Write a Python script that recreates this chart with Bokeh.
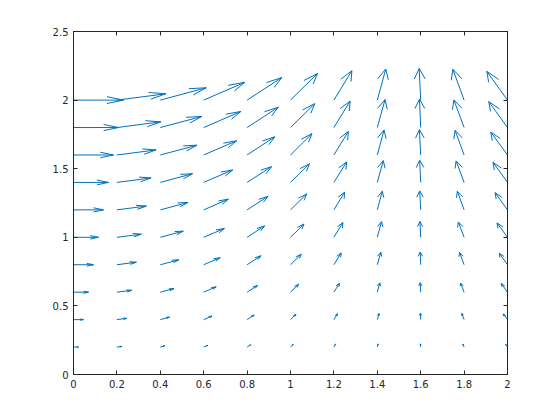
import numpy as np
from bokeh.plotting import figure
from bokeh.models import FixedTicker, LinearAxis, Range1d
from bokeh.embed import file_html
from bokeh.resources import INLINE

# grid of arrow origins
X_GRID = [0.0, 0.2, 0.4, 0.6, 0.8, 1.0, 1.2, 1.4, 1.6, 1.8, 2.0]
Y_GRID = [0.2, 0.4, 0.6, 0.8, 1.0, 1.2, 1.4, 1.6, 1.8, 2.0]

# vector components, one row per Y_GRID value
U = [
    [0.20, 0.20, 0.18, 0.17, 0.14, 0.11, 0.07, 0.03, -0.01, -0.05, -0.08],
    [0.40, 0.39, 0.37, 0.33, 0.28, 0.22, 0.14, 0.07, -0.01, -0.09, -0.17],
    [0.60, 0.59, 0.55, 0.50, 0.42, 0.32, 0.22, 0.10, -0.02, -0.14, -0.25],
    [0.80, 0.78, 0.74, 0.66, 0.56, 0.43, 0.29, 0.14, -0.02, -0.18, -0.33],
    [1.00, 0.98, 0.92, 0.83, 0.70, 0.54, 0.36, 0.17, -0.03, -0.23, -0.42],
    [1.20, 1.18, 1.11, 0.99, 0.84, 0.65, 0.43, 0.20, -0.04, -0.27, -0.50],
    [1.40, 1.37, 1.29, 1.16, 0.98, 0.76, 0.51, 0.24, -0.04, -0.32, -0.58],
    [1.60, 1.57, 1.47, 1.32, 1.11, 0.86, 0.58, 0.27, -0.05, -0.36, -0.67],
    [1.80, 1.76, 1.66, 1.49, 1.25, 0.97, 0.65, 0.31, -0.05, -0.41, -0.75],
    [2.00, 1.96, 1.84, 1.65, 1.39, 1.08, 0.72, 0.34, -0.06, -0.45, -0.83],
]
V = [
    [0.00, 0.04, 0.08, 0.11, 0.14, 0.17, 0.19, 0.20, 0.20, 0.19, 0.18],
    [0.00, 0.08, 0.16, 0.23, 0.29, 0.34, 0.37, 0.39, 0.40, 0.39, 0.36],
    [0.00, 0.12, 0.23, 0.34, 0.43, 0.50, 0.56, 0.59, 0.60, 0.58, 0.55],
    [0.00, 0.16, 0.31, 0.45, 0.57, 0.67, 0.75, 0.79, 0.80, 0.78, 0.73],
    [0.00, 0.20, 0.39, 0.56, 0.72, 0.84, 0.93, 0.99, 1.00, 0.97, 0.91],
    [0.00, 0.24, 0.47, 0.68, 0.86, 1.01, 1.12, 1.18, 1.20, 1.17, 1.09],
    [0.00, 0.28, 0.55, 0.79, 1.00, 1.18, 1.30, 1.38, 1.40, 1.36, 1.27],
    [0.00, 0.32, 0.62, 0.90, 1.15, 1.35, 1.49, 1.58, 1.60, 1.56, 1.45],
    [0.00, 0.36, 0.70, 1.02, 1.29, 1.51, 1.68, 1.77, 1.80, 1.75, 1.64],
    [0.00, 0.40, 0.78, 1.13, 1.43, 1.68, 1.86, 1.97, 2.00, 1.95, 1.82],
]

X_TICKS = [0.0, 0.2, 0.4, 0.6, 0.8, 1.0, 1.2, 1.4, 1.6, 1.8, 2.0]
X_TICK_LABELS = ["0", "0.2", "0.4", "0.6", "0.8", "1", "1.2", "1.4", "1.6", "1.8", "2"]
Y_TICKS = [0.0, 0.5, 1.0, 1.5, 2.0, 2.5]
Y_TICK_LABELS = ["0", "0.5", "1", "1.5", "2", "2.5"]

ARROW_COLOR = "#0072BD"
AXIS_COLOR = "#262626"

# --- quiver geometry (MATLAB-style autoscale and arrow heads) ---
Xg, Yg = np.meshgrid(np.array(X_GRID), np.array(Y_GRID))
u = np.array(U, dtype=float)
v = np.array(V, dtype=float)
m, n = Xg.shape
delx = (Xg.max() - Xg.min()) / n
dely = (Yg.max() - Yg.min()) / m
del2 = delx ** 2 + dely ** 2
lens = np.sqrt((u ** 2 + v ** 2) / del2)
scale = 0.9 / lens.max()
u = u * scale
v = v * scale

x0 = Xg.ravel()
y0 = Yg.ravel()
x1 = (Xg + u).ravel()
y1 = (Yg + v).ravel()
uu = u.ravel()
vv = v.ravel()
alpha, beta = 0.33, 0.33
eps = 1e-12
hx1 = x1 - alpha * (uu + beta * (vv + eps))
hy1 = y1 - alpha * (vv - beta * (uu + eps))
hx2 = x1 - alpha * (uu - beta * (vv + eps))
hy2 = y1 - alpha * (vv + beta * (uu + eps))
head_xs = [[a, b, c] for a, b, c in zip(hx1, x1, hx2)]
head_ys = [[a, b, c] for a, b, c in zip(hy1, y1, hy2)]

p = figure(
    x_range=Range1d(0, 2), y_range=Range1d(0, 2.5),
    frame_width=434, frame_height=343,
    min_border_left=73, min_border_right=53, min_border_top=31, min_border_bottom=38,
    output_backend="svg", toolbar_location=None,
    background_fill_color="white", border_fill_color="white",
)
p.xgrid.visible = False
p.ygrid.visible = False
p.outline_line_color = AXIS_COLOR
p.outline_line_width = 1

p.segment(x0=x0, y0=y0, x1=x1, y1=y1, line_color=ARROW_COLOR, line_width=1)
p.multi_line(xs=head_xs, ys=head_ys, line_color=ARROW_COLOR, line_width=1)


def style_axis(ax, ticks, labels):
    ax.ticker = FixedTicker(ticks=ticks)
    ax.major_label_overrides = {t: l for t, l in zip(ticks, labels)}
    ax.minor_tick_line_color = None
    ax.major_tick_in = 4
    ax.major_tick_out = 0
    ax.axis_line_color = AXIS_COLOR
    ax.major_tick_line_color = AXIS_COLOR
    ax.major_label_text_color = AXIS_COLOR
    ax.major_label_text_font = "DejaVu Sans"
    ax.major_label_text_font_size = "10px"
    ax.major_label_standoff = 5


style_axis(p.xaxis[0], X_TICKS, X_TICK_LABELS)
style_axis(p.yaxis[0], Y_TICKS, Y_TICK_LABELS)

# mirrored ticks on the top and right edges (box on), without labels
top_axis = LinearAxis()
style_axis(top_axis, X_TICKS, [""] * len(X_TICKS))
p.add_layout(top_axis, "above")
right_axis = LinearAxis()
style_axis(right_axis, Y_TICKS, [""] * len(Y_TICKS))
p.add_layout(right_axis, "right")

open("out.html", "w").write(file_html(p, INLINE))
